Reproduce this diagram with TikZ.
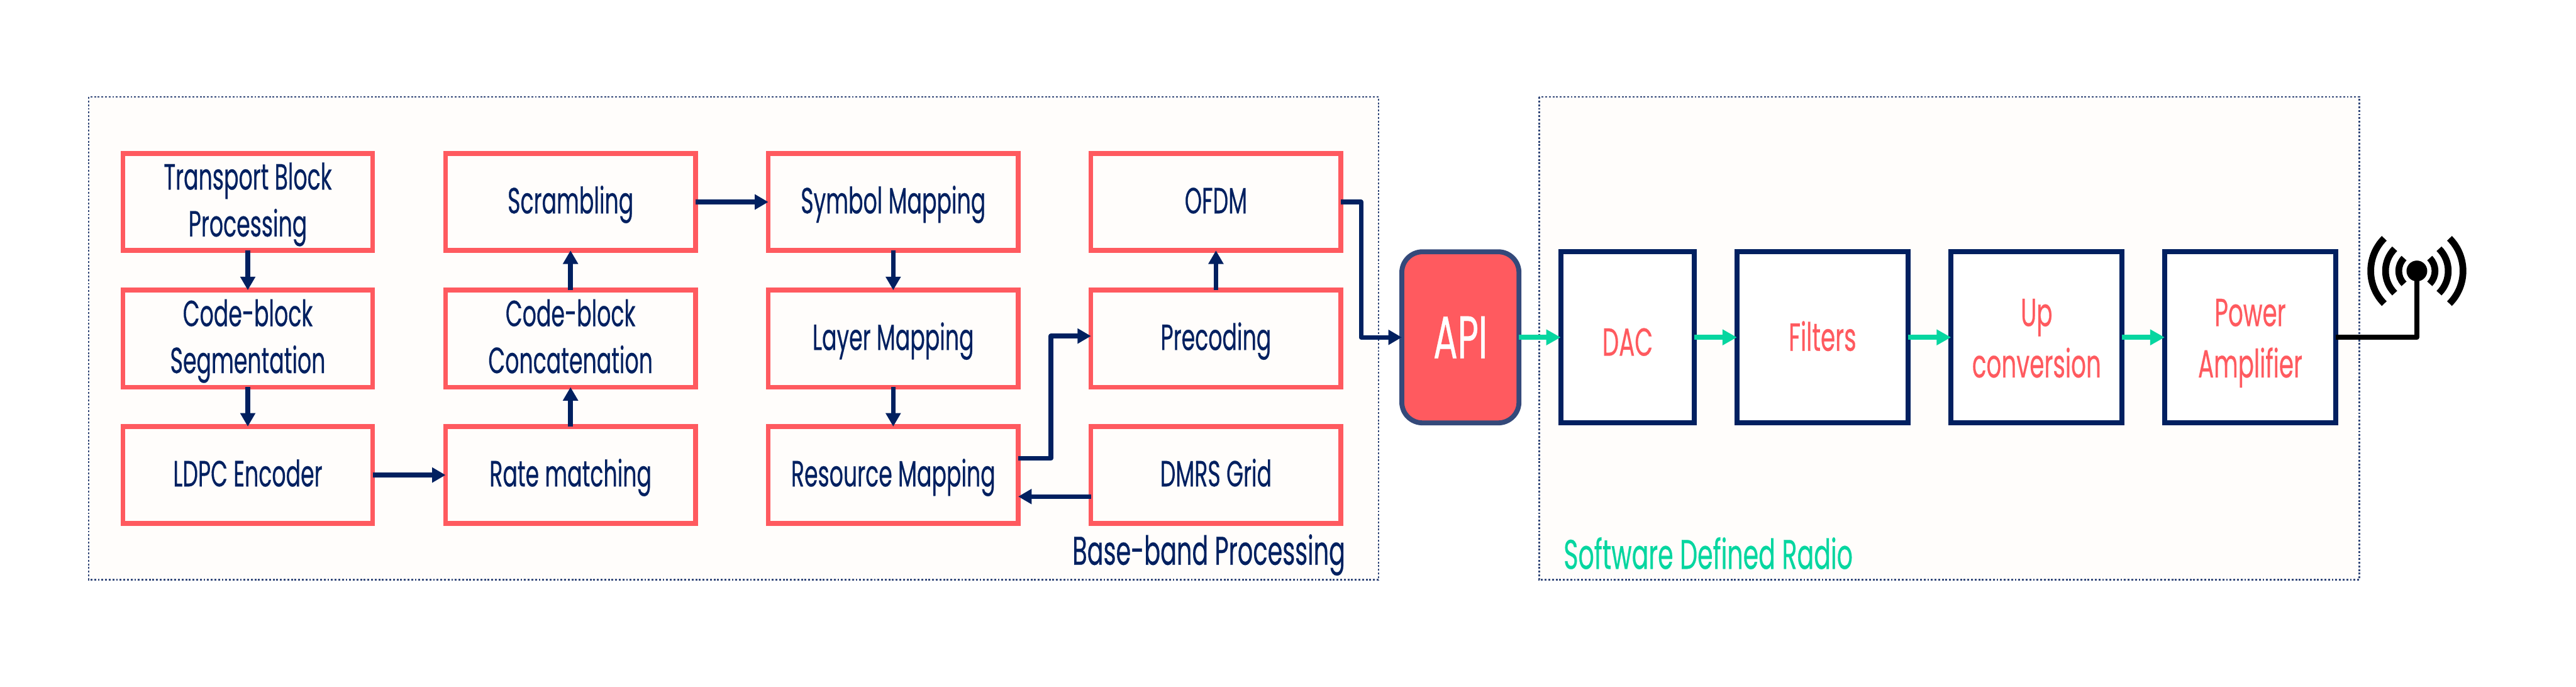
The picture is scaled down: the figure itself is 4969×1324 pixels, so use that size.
\documentclass[tikz,border=0pt]{standalone}
\usepackage{fontspec}
\setmainfont[FakeStretch=0.6, FakeBold=0.35]{Poppins}
\usetikzlibrary{calc, positioning}
\usetikzlibrary{arrows.meta}
\definecolor{coral}{HTML}{FF5A5F}
\definecolor{navy}{HTML}{012060}
\definecolor{mint}{HTML}{06D6A0}
\definecolor{slate}{HTML}{34497A}
\definecolor{paper}{HTML}{FFFDFB}
\def\px{0.02cm}
\tikzset{
  panelbox/.style={fill=paper, draw=slate, line width=1.7pt, dash pattern=on 2pt off 2pt},
  bbbox/.style={draw=coral, fill=paper, line width=9*\px, outer sep=0pt, inner sep=0pt,
    minimum width=482*\px, minimum height=187*\px, align=center, text=navy,
    text height=25pt, text depth=0pt,
    font=\fontsize{40}{51.5}\selectfont},
  twoline/.style={text height=75.7pt},
  sdrbox/.style={draw=navy, fill=white, line width=9.5*\px, outer sep=0pt, inner sep=0pt,
    minimum height=330*\px, align=center, text=coral,
    text height=88pt, text depth=0pt,
    font=\fontsize{43}{56.3}\selectfont},
  navyflow/.style={draw=navy, line width=9*\px, line join=round,
    -{Triangle[length=26*\px, width=28*\px]}},
  mintflow/.style={draw=mint, line width=9.5*\px,
    -{Triangle[length=28*\px, width=29*\px]}},
  antwave/.style={draw=black, line width=13*\px},
}
\begin{document}
\begin{tikzpicture}[x=\px,y=-\px]
\def\colA{478}
\def\colB{1100.5}
\def\colC{1723}
\def\colD{2345.5}
\def\rowA{389.5}
\def\rowB{653}
\def\rowC{916}
\def\rowS{650.5}

\useasboundingbox (0,0) rectangle (4969,1324);

\draw[panelbox] (171,187) rectangle (2659,1118);
\draw[panelbox] (2969,187) rectangle (4551,1118);

% base-band chain
\node[bbbox, twoline] (tbproc) at (\colA,\rowA) {Transport Block\\Processing};
\node[bbbox, twoline] (cbseg) at (\colA,\rowB) {Code-block\\Segmentation};
\node[bbbox] (ldpc) at (\colA,\rowC) {LDPC Encoder};
\node[bbbox] (scramble) at (\colB,\rowA) {Scrambling};
\node[bbbox, twoline] (cbconcat) at (\colB,\rowB) {Code-block\\Concatenation};
\node[bbbox] (ratematch) at (\colB,\rowC) {Rate matching};
\node[bbbox] (symmap) at (\colC,\rowA) {Symbol Mapping};
\node[bbbox] (laymap) at (\colC,\rowB) {Layer Mapping};
\node[bbbox] (resmap) at (\colC,\rowC) {Resource Mapping};
\node[bbbox] (ofdm) at (\colD,\rowA) {OFDM};
\node[bbbox] (precode) at (\colD,\rowB) {Precoding};
\node[bbbox] (dmrs) at (\colD,\rowC) {DMRS Grid};

\node[anchor=base east, text=navy, font=\fontsize{44}{48}\selectfont] (bblabel) at (2601,1089) {Base-band Processing};
\node[anchor=base west, text=mint, font=\fontsize{45.5}{50}\selectfont] (sdrlabel) at (3010,1097) {Software Defined Radio};

% interface
\node[draw=slate, fill=coral, line width=9.5*\px, rounded corners=40*\px, outer sep=0pt,
  minimum width=226*\px, minimum height=330*\px, text=white,
  font=\fontsize{66}{70}\selectfont] (api) at (2817,\rowS) {API};

% radio chain
\node[sdrbox, text height=40.4pt, minimum width=258*\px] (dac) at (3139.5,\rowS) {DAC};
\node[sdrbox, text height=29.6pt, minimum width=330*\px] (filters) at (3515.5,\rowS) {Filters};
\node[sdrbox, minimum width=330*\px] (upconv) at (3928.5,\rowS) {Up\\conversion};
\node[sdrbox, minimum width=330*\px] (poweramp) at (4340.5,\rowS) {Power\\Amplifier};

\draw[navyflow] (tbproc) -- (cbseg);
\draw[navyflow] (cbseg) -- (ldpc);
\draw[navyflow] (ldpc) -- (ratematch);
\draw[navyflow] (ratematch) -- (cbconcat);
\draw[navyflow] (cbconcat) -- (scramble);
\draw[navyflow] (scramble) -- (symmap);
\draw[navyflow] (symmap) -- (laymap);
\draw[navyflow] (laymap) -- (resmap);
\draw[navyflow] ($(resmap.east)+(0,-32)$) -- ++(63,0) |- ($(precode.west)+(0,-5)$);
\draw[navyflow] ($(dmrs.west)+(0,41.5)$) -- ($(resmap.east)+(0,41.5)$);
\draw[navyflow] (precode) -- (ofdm);
\draw[navyflow] (ofdm.east) -- ++(39,0) |- (api.west);

\draw[mintflow] (api) -- (dac);
\draw[mintflow] (dac) -- (filters);
\draw[mintflow] (filters) -- (upconv);
\draw[mintflow] (upconv) -- (poweramp);

% antenna
\node[circle, fill=black, inner sep=0pt, minimum size=40*\px] (antdot) at (4662,522.5) {};
\draw[black, line width=10*\px, line join=round] (poweramp.east) -| (antdot.center);
\foreach \rad in {35,60.5,89} {
  \draw[antwave] (antdot.center) ++(-45:\rad) arc[start angle=-45, end angle=45, radius=\rad];
  \draw[antwave] (antdot.center) ++(135:\rad) arc[start angle=135, end angle=225, radius=\rad];
}
\end{tikzpicture}
\end{document}
